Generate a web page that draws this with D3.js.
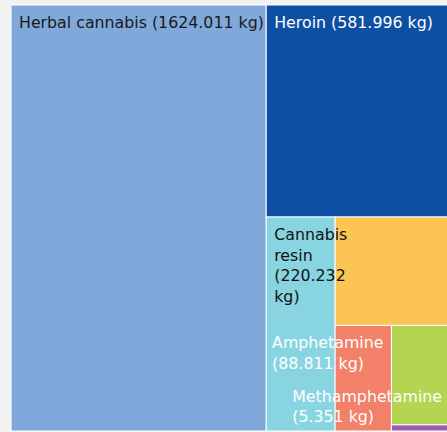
<!DOCTYPE html>
<html>
<head>
  <meta charset="utf-8">
  <script src="https://d3js.org/d3.v7.min.js"></script>
  <style>
    body{
      margin:0;
      background:#f2f2f2;
    }
    .cell-label{
      font-family:"DejaVu Sans", Verdana, sans-serif;
      font-size:15.8px;
    }
  </style>
</head>
<body>
  <svg width='447' height='432' id='chart'></svg>
  <script>
    //seizures by drug, kg
    var drugs = ["Herbal cannabis", "Heroin", "Cannabis resin", "Cocaine", "Amphetamine", "Ecstasy", "Methamphetamine"];
    var weights = [1624.011, 581.996, 220.232, 186, 88.811, 87, 5.351];
    var fillColors = ["#80a8da", "#0d4fa3", "#88d4e1", "#fcc455", "#f3816a", "#b5d452", "#9b5bb5"];
    var textColors = ["#1a1a1a", "#ffffff", "#111111", "#111111", "#ffffff", "#111111", "#ffffff"];
    var labelled = ["Herbal cannabis", "Heroin", "Cannabis resin", "Amphetamine", "Methamphetamine"];

    var svg = d3.select("svg#chart");
    var W = 447, H = 432;
    var box = {x0: 11, y0: 5, x1: 450, y1: 431};
    var pad = 8, lineH = 20.5;

    var color = d3.scaleOrdinal().domain(drugs).range(fillColors);
    var textColor = d3.scaleOrdinal().domain(drugs).range(textColors);

    //each cell takes the whole remaining side, direction alternates
    function tileAlternate(parent, x0, y0, x1, y1){
      var rest = parent.value;
      parent.children.forEach(function(node, i){
        var k = rest ? node.value / rest : 0;
        node.x0 = x0; node.y0 = y0; node.x1 = x1; node.y1 = y1;
        if (i % 2 === 0){
          x0 = x0 + (x1 - x0) * k;
          node.x1 = x0;
        } else {
          y0 = y0 + (y1 - y0) * k;
          node.y1 = y0;
        }
        rest -= node.value;
      });
    }

    var data = drugs.map(function(d, i){ return {name: d, value: weights[i]}; });
    var root = d3.hierarchy({children: data}).sum(function(d){ return d.value || 0; });

    d3.treemap()
      .tile(tileAlternate)
      .size([box.x1 - box.x0, box.y1 - box.y0])(root);

    var leaves = root.leaves();

    var cells = svg.append('g')
      .attr('transform', 'translate(' + box.x0 + ',' + box.y0 + ')');

    cells.selectAll('rect')
      .data(leaves)
      .enter().append('rect')
      .attr('x', function(d){ return d.x0; })
      .attr('y', function(d){ return d.y0; })
      .attr('width', function(d){ return d.x1 - d.x0; })
      .attr('height', function(d){ return d.y1 - d.y0; })
      .attr('fill', function(d){ return color(d.data.name); })
      .attr('stroke', '#ffffff')
      .attr('stroke-width', 1);

    //labels, wrapped to the cell width (never narrower than the longest word)
    //and pushed back inside the view when they would run off it
    var measure = svg.append('text').attr('class', 'cell-label');
    function textWidth(s){
      measure.text(s);
      return measure.node().getComputedTextLength();
    }

    var labelLayer = svg.append('g');
    leaves.filter(function(d){ return labelled.indexOf(d.data.name) >= 0; }).forEach(function(d){
      var words = (d.data.name + ' (' + d.data.value + ' kg)').split(' ');
      var maxW = Math.max(d.x1 - d.x0 - pad, d3.max(words, textWidth));
      var lines = [], line = '';
      words.forEach(function(w){
        var tryLine = line ? line + ' ' + w : w;
        if (line && textWidth(tryLine) > maxW){
          lines.push(line);
          line = w;
        } else {
          line = tryLine;
        }
      });
      lines.push(line);

      var blockW = d3.max(lines, textWidth);
      var left = box.x0 + d.x0 + pad;
      if (left + blockW > W) left = box.x0 + d.x1 - pad - blockW;
      var first = box.y0 + d.y0 + 23;
      var last = first + (lines.length - 1) * lineH;
      if (last + 5 > H) first = box.y0 + d.y1 - 9 - (lines.length - 1) * lineH;

      var t = labelLayer.append('text')
        .attr('class', 'cell-label')
        .attr('fill', textColor(d.data.name));
      lines.forEach(function(l, i){
        t.append('tspan')
          .attr('x', left)
          .attr('y', first + i * lineH)
          .text(l);
      });
    });
    measure.remove();
  </script>
</body>
</html>
